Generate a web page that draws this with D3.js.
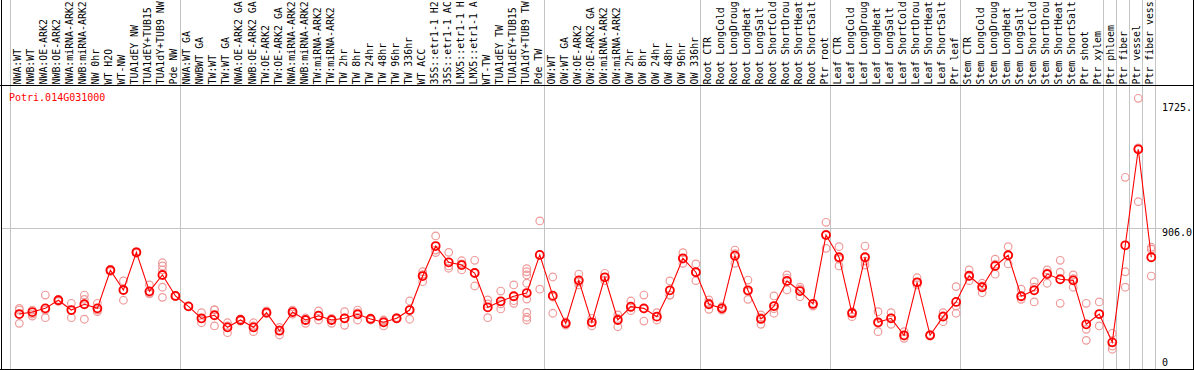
<!DOCTYPE html>
<html>
<head>
<meta charset="utf-8">
<script src="https://cdn.jsdelivr.net/npm/d3@7"></script>
<style>
body { margin: 0; background: #fff; }
text { font-family: "DejaVu Sans Mono", monospace; font-size: 10px; }
text.cat { font-size: 9.9px; }
</style>
</head>
<body>
<svg id="chart" width="1194" height="370"></svg>
<script>
var GENE = "Potri.014G031000";

// labels as the chart prints them (cut to 14 characters)
var categories = [ "NWA:WT", "NWB:WT", "NWA:OE-ARK2", "NWB:OE-ARK2", "NWA:miRNA-ARK2",
		"NWB:miRNA-ARK2", "NW 0hr", "WT H2O", "WT-NW", "TUA1dEY NW", "TUA1dEY+TUB15",
		"TUA1dY+TUB9 NW", "Pde NW",
		"NWA:WT GA", "NWBWT GA", "TW:WT", "TW:WT GA", "NWA:OE-ARK2 GA", "NWB:OE-ARK2 GA",
		"TW:OE-ARK2", "TW:OE-ARK2 GA", "NWA:miRNA-ARK2", "NWB:miRNA-ARK2", "TW:miRNA-ARK2",
		"TW:miRNA-ARK2", "TW 2hr", "TW 8hr", "TW 24hr", "TW 48hr", "TW 96hr", "TW 336hr",
		"WT ACC", "35S::etr1-1 H2", "35S::etr1-1 AC", "LMX5::etr1-1 H", "LMX5::etr1-1 A",
		"WT-TW", "TUA1dEY TW", "TUA1dEY+TUB15", "TUA1dY+TUB9 TW", "Pde TW",
		"OW:WT", "OW:WT GA", "OW:OE-ARK2", "OW:OE-ARK2 GA", "OW:miRNA-ARK2", "OW:miRNA-ARK2",
		"OW 2hr", "OW 8hr", "OW 24hr", "OW 48hr", "OW 96hr", "OW 336hr",
		"Root CTR", "Root LongCold", "Root LongDroug", "Root LongHeat", "Root LongSalt",
		"Root ShortCold", "Root ShortDrou", "Root ShortHeat", "Root ShortSalt", "Ptr root",
		"Leaf CTR", "Leaf LongCold", "Leaf LongDroug", "Leaf LongHeat", "Leaf LongSalt",
		"Leaf ShortCold", "Leaf ShortDrou", "Leaf ShortHeat", "Leaf ShortSalt", "Ptr leaf",
		"Stem CTR", "Stem LongCold", "Stem LongDroug", "Stem LongHeat", "Stem LongSalt",
		"Stem ShortCold", "Stem ShortDrou", "Stem ShortHeat", "Stem ShortSalt", "Ptr shoot",
		"Ptr xylem",
		"Ptr phloem", "Ptr fiber", "Ptr vessel", "Ptr fiber vess" ];

// number of categories in each block between the grey separators
var groupSizes = [ 13, 28, 12, 10, 10, 11, 1, 1, 1, 1 ];

var means = [ 346, 359, 383, 436, 372, 410, 383, 632, 503, 749, 494, 601, 464,
		396, 318, 338, 259, 307, 259, 355, 237, 359, 307, 335, 307, 318, 344, 314, 292,
		318, 372, 594, 790, 684, 666, 614, 390, 429, 462, 483, 732, 466, 285,
		566, 292, 586, 307, 394, 383, 329, 501, 710, 619, 410, 383,
		727, 501, 314, 398, 562, 496, 412, 862, 717, 351,
		717, 292, 318, 207, 553, 207, 329, 425, 596, 521,
		660, 730, 462, 501, 607, 573, 566, 279, 346, 161, 795, 1422, 717 ];

var replicates = [ [ 383, 372, 285 ], [ 372, 346, 333 ], [ 470, 372, 322 ],
		[ 441, 436, 428 ], [ 416, 372, 322 ], [ 470, 442, 312 ], [ 416, 372, 361 ],
		[ 637, 632, 624 ], [ 562, 503, 436 ], [ 754, 749, 743 ], [ 536, 483, 477 ],
		[ 681, 660, 634, 521, 455 ], [ 467, 464, 461 ],
		[ 398, 396, 394 ], [ 355, 314, 289 ], [ 372, 375, 268 ], [ 289, 268, 224 ],
		[ 314, 307, 300 ], [ 289, 268, 231 ], [ 366, 359, 349 ], [ 259, 242, 209 ],
		[ 372, 359, 346 ], [ 320, 307, 285 ], [ 366, 333, 307 ], [ 318, 307, 285 ],
		[ 361, 320, 272 ], [ 372, 353, 307 ], [ 320, 314, 307 ], [ 307, 300, 268 ],
		[ 323, 318, 314 ], [ 431, 372, 312 ], [ 622, 604, 557 ], [ 856, 764, 747 ],
		[ 749, 660, 645 ], [ 694, 673, 634 ], [ 697, 617, 529 ], [ 438, 412, 322 ],
		[ 496, 412, 379 ], [ 536, 433, 416 ], [ 642, 622, 601, 547, 444, 357, 325, 307 ],
		[ 954, 732, 508 ], [ 588, 457, 351 ], [ 294, 285, 274 ],
		[ 607, 555, 536 ], [ 318, 291, 268 ], [ 612, 586, 564 ], [ 340, 317, 263 ],
		[ 431, 387, 368 ], [ 470, 379, 300 ], [ 355, 329, 307 ], [ 562, 470, 470 ],
		[ 747, 705, 677 ], [ 673, 621, 564 ], [ 438, 418, 377 ], [ 394, 383, 372 ],
		[ 764, 740, 677 ], [ 568, 492, 442 ], [ 340, 322, 279 ], [ 464, 381, 351 ],
		[ 601, 581, 503 ], [ 521, 509, 459 ], [ 416, 412, 398 ], [ 945, 867, 775 ],
		[ 786, 704, 660 ], [ 361, 351, 329 ], [ 790, 692, 666 ], [ 361, 285, 231 ],
		[ 355, 320, 279 ], [ 231, 202, 187 ], [ 583, 553, 536 ], [ 212, 207, 202 ],
		[ 355, 335, 296 ], [ 525, 398, 351 ], [ 634, 592, 564 ], [ 547, 529, 485 ],
		[ 704, 671, 606 ], [ 786, 730, 673 ], [ 508, 462, 442 ], [ 557, 521, 425 ],
		[ 634, 614, 547 ], [ 697, 619, 416 ], [ 601, 577, 521 ], [ 416, 246, 174 ],
		[ 425, 346, 268 ], [ 220, 137, 116 ], [ 1239, 622, 521 ], [ 1755, 1431, 1080 ],
		[ 782, 769, 594 ] ];

var yTicks = [ 0, 906, 1725 ];
var yTickLabels = [ "0", "906.0", "1725." ];

var WIDTH = 1194;
var HEIGHT = 370;
var PLOT_TOP = 85;
var PLOT_BOTTOM = 369;
var LABEL_BASE = 84.5;
var GRID_COLOR = "#c4c4c4";
var REP_COLOR = "#ef9a9a";
var MEAN_COLOR = "#ff0000";

var svg = d3.select("#chart");

var xBand = d3.scaleBand().domain(d3.range(categories.length)).range([ 10, 1155 ])
		.paddingInner(0).paddingOuter(0);

function xPos(i) {
	return (xBand(i) + xBand.bandwidth() * 0.715);
}// END: xPos

var yScale = d3.scaleLinear().domain([ 0, 1725 ]).range([ 367, 102.9 ]);

function crisp(v) {
	return (Math.ceil(v - 0.01) + 0.5);
}// END: crisp

svg.append("defs").append("clipPath").attr("id", "plotClip") //
.append("rect") //
.attr("x", 1) //
.attr("y", PLOT_TOP) //
.attr("width", 1191.5) //
.attr("height", PLOT_BOTTOM - PLOT_TOP);

// separators between groups, full height
var boundaries = [ 0 ];
groupSizes.forEach(function(n) {
	boundaries.push(boundaries[boundaries.length - 1] + n);
});

svg.selectAll("line.sep").data(boundaries).enter().append("line") //
.attr("class", "sep") //
.attr("x1", function(d) {
	return (crisp(d < categories.length ? xBand(d) : xBand.range()[1]));
}) //
.attr("x2", function(d) {
	return (crisp(d < categories.length ? xBand(d) : xBand.range()[1]));
}) //
.attr("y1", 0) //
.attr("y2", PLOT_BOTTOM) //
.attr("stroke", GRID_COLOR) //
.attr("stroke-width", 1);

// horizontal grid at middle tick
svg.append("line") //
.attr("x1", 1) //
.attr("x2", 1162) //
.attr("y1", Math.floor(yScale(yTicks[1])) + 0.5) //
.attr("y2", Math.floor(yScale(yTicks[1])) + 0.5) //
.attr("stroke", GRID_COLOR);

// category labels, rotated
svg.selectAll("text.cat").data(categories).enter().append("text") //
.attr("class", "cat") //
.attr("transform", function(d, i) {
	return ("translate(" + (xPos(i) + 2) + "," + LABEL_BASE + ") rotate(-90)");
}) //
.attr("fill", "#000") //
.text(function(d) {
	return (d);
});

// gene name
svg.append("text") //
.attr("x", 9) //
.attr("y", 101) //
.attr("fill", MEAN_COLOR) //
.text(GENE);

var plot = svg.append("g").attr("clip-path", "url(#plotClip)");

// replicate points
var repPoints = [];
replicates.forEach(function(reps, i) {
	reps.forEach(function(v) {
		repPoints.push({
			i : i,
			v : v
		});
	});
});

plot.selectAll("circle.rep").data(repPoints).enter().append("circle") //
.attr("class", "rep") //
.attr("cx", function(d) {
	return (xPos(d.i));
}) //
.attr("cy", function(d) {
	return (yScale(d.v));
}) //
.attr("r", 3.8) //
.attr("fill", "none") //
.attr("stroke", REP_COLOR) //
.attr("stroke-width", 1.2);

// mean line
var line = d3.line().x(function(d, i) {
	return (xPos(i));
}).y(function(d) {
	return (yScale(d));
});

plot.append("path") //
.datum(means) //
.attr("d", line) //
.attr("fill", "none") //
.attr("stroke", MEAN_COLOR) //
.attr("stroke-width", 1.1);

plot.selectAll("circle.mean").data(means).enter().append("circle") //
.attr("class", "mean") //
.attr("cx", function(d, i) {
	return (xPos(i));
}) //
.attr("cy", function(d) {
	return (yScale(d));
}) //
.attr("r", 4) //
.attr("fill", "none") //
.attr("stroke", MEAN_COLOR) //
.attr("stroke-width", 1.8);

// right-hand value labels
svg.selectAll("text.tick").data(yTicks).enter().append("text") //
.attr("class", "tick") //
.attr("x", 1162) //
.attr("y", function(d) {
	return (Math.min(yScale(d) + 8, 366));
}) //
.attr("fill", "#000") //
.text(function(d, i) {
	return (yTickLabels[i]);
});

// frame
svg.append("line").attr("x1", 0).attr("x2", WIDTH).attr("y1", PLOT_TOP + 0.5)
		.attr("y2", PLOT_TOP + 0.5).attr("stroke", "#000");
svg.append("line").attr("x1", 0).attr("x2", WIDTH).attr("y1", PLOT_BOTTOM + 0.5)
		.attr("y2", PLOT_BOTTOM + 0.5).attr("stroke", "#000");
svg.append("line").attr("x1", 1.5).attr("x2", 1.5).attr("y1", 0).attr("y2", HEIGHT)
		.attr("stroke", "#000");
svg.append("line").attr("x1", 1193.5).attr("x2", 1193.5).attr("y1", 0).attr("y2", HEIGHT)
		.attr("stroke", "#000");
</script>
</body>
</html>
